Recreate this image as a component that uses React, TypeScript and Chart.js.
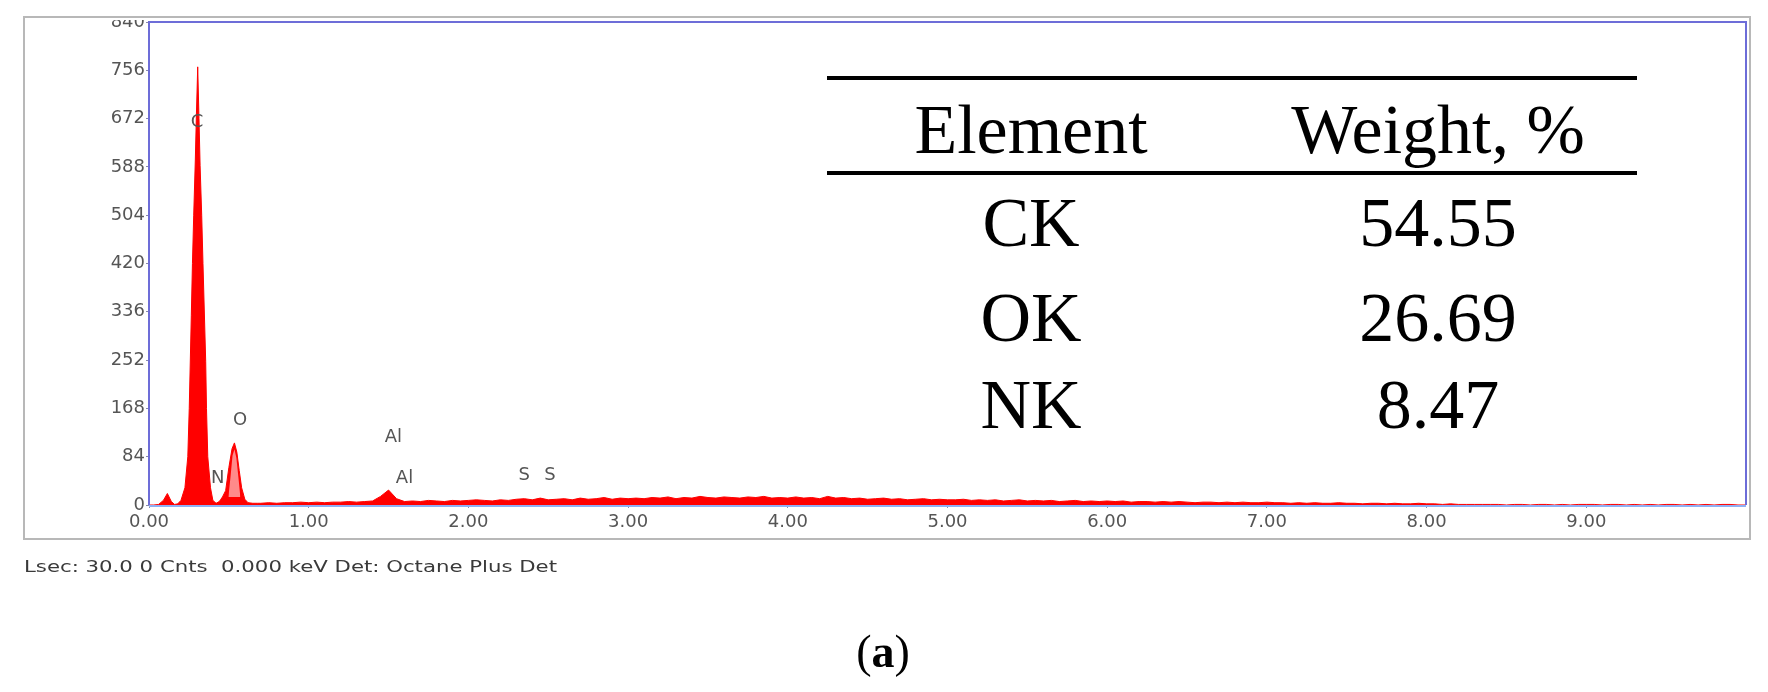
import React, { useEffect, useRef } from 'react';
import { Chart, registerables } from 'chart.js';

Chart.register(...registerables);

const W = 1768;
const H = 692;

// ---- Spectrum data (energy in keV, counts) ----
// Low-energy region with the C, N and O peaks
const peakEnergies = [
  0.0, 0.03, 0.06, 0.09, 0.115, 0.14, 0.16, 0.18, 0.2, 0.225, 0.243, 0.252, 0.265, 0.272, 0.28,
  0.29, 0.297, 0.305, 0.313, 0.32, 0.33, 0.338, 0.355, 0.36, 0.368, 0.385, 0.4, 0.42, 0.44, 0.45,
  0.46, 0.48, 0.5, 0.52, 0.535, 0.55, 0.565, 0.58, 0.6, 0.62, 0.65, 0.68,
];
const peakCounts = [
  0, 0, 1, 8, 20, 6, 1, 2, 8, 30, 84, 168, 330, 420, 504,
  600, 680, 762, 672, 590, 504, 420, 250, 168, 84, 30, 8, 3, 6, 10,
  14, 25, 65, 98, 108, 92, 60, 30, 10, 4, 3, 3,
];

// Lighter inner part of the O peak (as shown in the spectrum)
const oInnerEnergies = [0.497, 0.51, 0.523, 0.535, 0.547, 0.56, 0.572];
const oInnerCounts = [14, 48, 86, 97, 82, 48, 14];
const oInnerBase = 14;

// Continuum read in 0.05 keV channels
const channelStep = 0.05;
const bgStart1 = 0.7; // 0.70 - 1.40
const bgCounts1 = [3, 4, 3, 4, 4, 5, 4, 5, 4, 5, 5, 6, 5, 6, 7];
const alStart = 1.45; // Al peak 1.45 - 1.55
const alCounts = [15, 26, 11];
const bgStart2 = 1.6; // 1.60 - 2.30
const bgCounts2 = [6, 7, 6, 8, 7, 6, 8, 7, 8, 9, 8, 7, 9, 8, 10];
const bgStart3 = 2.35; // 2.35 - 3.00
const bgCounts3 = [11, 9, 12, 9, 10, 11, 9, 12, 10, 11, 13, 10, 12, 11];
const bgStart4 = 3.05; // 3.05 - 4.00
const bgCounts4 = [12, 11, 13, 12, 14, 11, 13, 12, 15, 13, 12, 14, 13, 12, 14, 13, 15, 12, 13, 12];
const bgStart5 = 4.05; // 4.05 - 5.00
const bgCounts5 = [14, 12, 13, 11, 15, 12, 13, 11, 12, 10, 11, 12, 10, 11, 9, 10, 11, 9, 10, 9];
const bgStart6 = 5.05; // 5.05 - 6.00
const bgCounts6 = [9, 10, 8, 9, 8, 9, 7, 8, 9, 7, 8, 7, 8, 6, 7, 8, 6, 7, 6, 7];
const bgStart7 = 6.05; // 6.05 - 7.00
const bgCounts7 = [6, 7, 5, 6, 6, 5, 6, 5, 6, 5, 4, 5, 5, 4, 5, 4, 5, 4, 4, 5];
const bgStart8 = 7.05; // 7.05 - 8.00
const bgCounts8 = [4, 4, 3, 4, 3, 4, 3, 3, 4, 3, 3, 2, 3, 3, 2, 3, 2, 2, 3, 2];
const bgStart9 = 8.05; // 8.05 - 9.00
const bgCounts9 = [2, 1, 2, 1, 1, 1, 1, 1, 1, 0, 1, 1, 0, 1, 1, 0, 1, 0, 1, 1];
const bgStart10 = 9.05; // 9.05 - 10.00
const bgCounts10 = [1, 0, 1, 1, 0, 1, 0, 1, 0, 1, 1, 0, 1, 0, 1, 0, 1, 1, 0, 0];

// Axis ticks
const xTickValues = [0, 1, 2, 3, 4, 5, 6, 7, 8, 9];
const yTickValues = [0, 84, 168, 252, 336, 420, 504, 588, 672, 756, 840];

// Peak labels: text, energy, counts
const peakLabelTexts = ['C', 'N', 'O', 'Al', 'Al', 'S', 'S'];
const peakLabelEnergies = [0.3, 0.43, 0.57, 1.53, 1.6, 2.35, 2.51];
const peakLabelCounts = [666, 46, 148, 118, 47, 52, 52];

// Inset table
const tableHeaders = ['Element', 'Weight, %'];
const tableElements = ['CK', 'OK', 'NK'];
const tableWeights = ['54.55', '26.69', '8.47'];

const footerText = 'Lsec: 30.0 0 Cnts  0.000 keV Det: Octane Plus Det';
const captionLetter = 'a';

function buildPoints() {
  const pts: { x: number; y: number }[] = [];
  peakEnergies.forEach((e, i) => pts.push({ x: e, y: peakCounts[i] }));
  const chunks: [number, number[]][] = [
    [bgStart1, bgCounts1],
    [alStart, alCounts],
    [bgStart2, bgCounts2],
    [bgStart3, bgCounts3],
    [bgStart4, bgCounts4],
    [bgStart5, bgCounts5],
    [bgStart6, bgCounts6],
    [bgStart7, bgCounts7],
    [bgStart8, bgCounts8],
    [bgStart9, bgCounts9],
    [bgStart10, bgCounts10],
  ];
  chunks.forEach(([start, arr]) => {
    arr.forEach((c, i) => pts.push({ x: +(start + i * channelStep).toFixed(3), y: c }));
  });
  return pts;
}

const SANS = '"DejaVu Sans", Verdana, sans-serif';
const SERIF = '"Liberation Serif", "Times New Roman", serif';

const decorPlugin = {
  id: 'decor',
  beforeDraw(chart: any) {
    const ctx = chart.ctx;
    ctx.save();
    ctx.fillStyle = '#ffffff';
    ctx.fillRect(0, 0, W, H);
    ctx.restore();
  },
  afterDatasetsDraw(chart: any) {
    const ctx = chart.ctx;
    const a = chart.chartArea;
    ctx.save();
    ctx.lineWidth = 2;
    ctx.strokeStyle = '#6d6dd8';
    ctx.beginPath();
    ctx.moveTo(a.left, a.bottom);
    ctx.lineTo(a.left, a.top);
    ctx.lineTo(a.right, a.top);
    ctx.lineTo(a.right, a.bottom);
    ctx.stroke();
    ctx.strokeStyle = '#8fb0f4';
    ctx.beginPath();
    ctx.moveTo(a.left, a.bottom + 1);
    ctx.lineTo(a.right, a.bottom + 1);
    ctx.stroke();
    ctx.restore();
  },
  afterDraw(chart: any) {
    const ctx = chart.ctx;
    const a = chart.chartArea;
    const xs = chart.scales.x;
    const ys = chart.scales.y;
    ctx.save();
    // clip top tick label like the screenshot
    ctx.fillStyle = '#ffffff';
    ctx.fillRect(24, 0, a.left - 26, 20);
    // outer window frame
    ctx.strokeStyle = '#b8b8b8';
    ctx.lineWidth = 2;
    ctx.strokeRect(24, 17, a.right + 4 - 24, 539 - 17);

    // peak labels
    ctx.fillStyle = '#555555';
    ctx.font = '18px ' + SANS;
    ctx.textAlign = 'center';
    ctx.textBaseline = 'middle';
    peakLabelTexts.forEach((t, i) => {
      ctx.fillText(t, xs.getPixelForValue(peakLabelEnergies[i]), ys.getPixelForValue(peakLabelCounts[i]));
    });

    // inset table
    const tL = 827;
    const tR = 1637;
    const colX = [1031, 1438];
    ctx.strokeStyle = '#000000';
    ctx.lineWidth = 4;
    ctx.beginPath();
    ctx.moveTo(tL, 78);
    ctx.lineTo(tR, 78);
    ctx.moveTo(tL, 173);
    ctx.lineTo(tR, 173);
    ctx.stroke();
    ctx.fillStyle = '#000000';
    ctx.font = '70px ' + SERIF;
    ctx.textAlign = 'center';
    ctx.textBaseline = 'alphabetic';
    ctx.fillText(tableHeaders[0], colX[0], 153);
    ctx.fillText(tableHeaders[1], colX[1], 153);
    const rowBase = [246, 341, 428];
    tableElements.forEach((el, i) => {
      ctx.fillText(el, colX[0], rowBase[i]);
      ctx.fillText(tableWeights[i], colX[1], rowBase[i]);
    });

    // footer
    ctx.fillStyle = '#3a3a3a';
    ctx.font = '16px ' + SANS;
    ctx.textAlign = 'left';
    const fw = ctx.measureText(footerText).width;
    ctx.save();
    ctx.translate(24, 572);
    ctx.scale(533 / fw, 1);
    ctx.fillText(footerText, 0, 0);
    ctx.restore();

    // caption (a)
    ctx.fillStyle = '#000000';
    const fReg = '46px ' + SERIF;
    const fBold = 'bold 46px ' + SERIF;
    ctx.font = fReg;
    const wp = ctx.measureText('(').width;
    const wq = ctx.measureText(')').width;
    ctx.font = fBold;
    const wa = ctx.measureText(captionLetter).width;
    const total = wp + wa + wq;
    let cx = 883 - total / 2;
    const by = 667;
    ctx.font = fReg;
    ctx.fillText('(', cx, by);
    cx += wp;
    ctx.font = fBold;
    ctx.fillText(captionLetter, cx, by);
    cx += wa;
    ctx.font = fReg;
    ctx.fillText(')', cx, by);
    ctx.restore();
  },
};

export default function App() {
  const ref = useRef<HTMLCanvasElement | null>(null);
  useEffect(() => {
    const canvas = ref.current;
    if (!canvas) return;
    const chart = new Chart(canvas, {
      type: 'line',
      data: {
        datasets: [
          {
            label: 'O inner',
            data: oInnerEnergies.map((e, i) => ({ x: e, y: oInnerCounts[i] })),
            borderColor: 'rgba(0,0,0,0)',
            backgroundColor: '#ff8a8a',
            borderWidth: 0,
            pointRadius: 0,
            fill: { value: oInnerBase },
            tension: 0,
            order: 0,
          },
          {
            label: 'EDS',
            data: buildPoints(),
            borderColor: '#ff0000',
            backgroundColor: '#ff0000',
            borderWidth: 1,
            pointRadius: 0,
            fill: 'origin',
            tension: 0,
            order: 1,
          },
        ],
      },
      options: {
        responsive: false,
        animation: false,
        devicePixelRatio: 1,
        layout: { padding: { left: 89, right: 22, top: 22, bottom: 153 } },
        plugins: { legend: { display: false }, tooltip: { enabled: false }, title: { display: false } },
        scales: {
          x: {
            type: 'linear',
            min: 0,
            max: 10,
            border: { display: false },
            grid: { display: true, drawOnChartArea: false, drawTicks: true, tickLength: 3, color: '#8888aa' },
            afterBuildTicks: (s: any) => {
              s.ticks = xTickValues.map((v) => ({ value: v }));
            },
            afterFit: (s: any) => {
              s.height = 34;
            },
            ticks: {
              autoSkip: false,
              maxRotation: 0,
              padding: 4,
              color: '#555555',
              font: { family: SANS, size: 18 },
              callback: (v: any) => Number(v).toFixed(2),
            },
          },
          y: {
            type: 'linear',
            min: 0,
            max: 840,
            border: { display: false },
            grid: { display: true, drawOnChartArea: false, drawTicks: true, tickLength: 3, color: '#8888aa' },
            afterBuildTicks: (s: any) => {
              s.ticks = yTickValues.map((v) => ({ value: v }));
            },
            afterFit: (s: any) => {
              s.width = 60;
            },
            ticks: {
              autoSkip: false,
              padding: 1,
              color: '#555555',
              font: { family: SANS, size: 18 },
              callback: (v: any) => String(v),
            },
          },
        },
      },
      plugins: [decorPlugin],
    });
    return () => chart.destroy();
  }, []);
  return (
    <div style={{ position: 'fixed', left: 0, top: 0, width: W, height: H, background: '#fff' }}>
      <canvas ref={ref} width={W} height={H} style={{ width: W, height: H, display: 'block' }} />
    </div>
  );
}
